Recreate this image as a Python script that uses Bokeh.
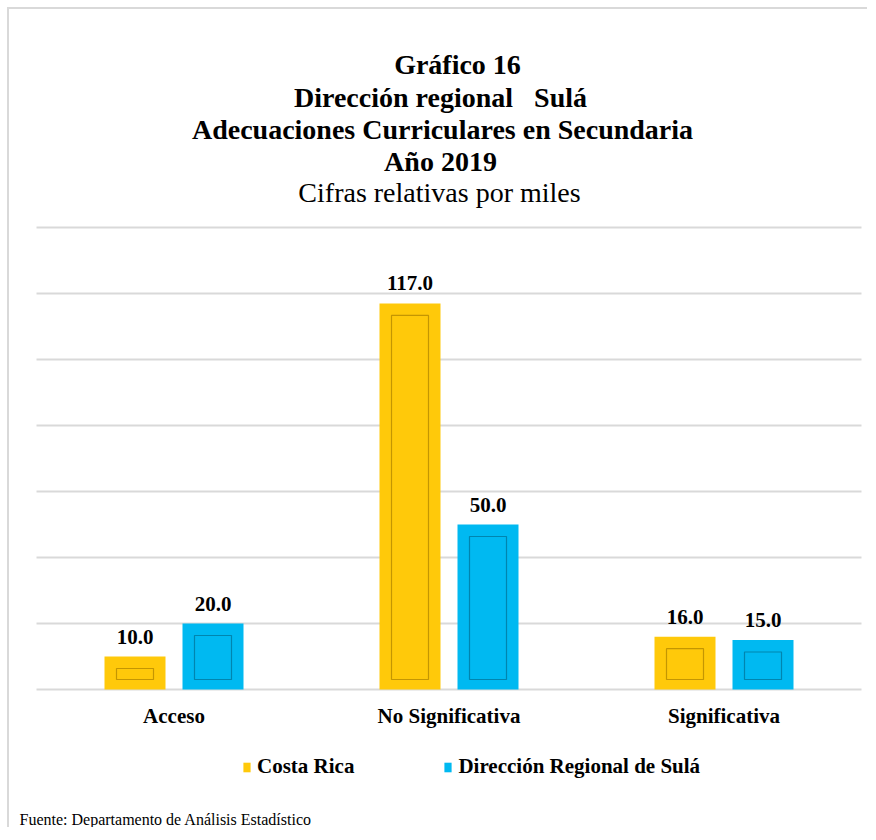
import numpy as np
from bokeh.plotting import figure
from bokeh.models import (Range1d, ColumnDataSource, LabelSet, Label, Legend, LegendItem)
from bokeh.transform import dodge
from bokeh.embed import file_html
from bokeh.resources import INLINE

# ---- data ----
categories = ["Acceso", "No Significativa", "Significativa"]
series = ["Costa Rica", "Dirección Regional de Sulá"]
costa_rica = [10.0, 117.0, 16.0]
sula = [20.0, 50.0, 15.0]
y_ticks = [0, 20, 40, 60, 80, 100, 120, 140]

title_lines = ["Gráfico 16", "Dirección regional\u00a0\u00a0 Sulá",
               "Adecuaciones Curriculares en Secundaria", "Año 2019"]
subtitle = "Cifras relativas por miles"
footer = "Fuente: Departamento de Análisis Estadístico"

# ---- style ----
FONT = "Liberation Serif"
YEL = "#FFC90A"
YEL_EDGE = "#B58A00"
BLUE = "#00B9F1"
BLUE_EDGE = "#00789F"
GRID = "#D9D9D9"

W, H = 860, 820
PX_X = 275.0             # px per category
PX_Y = 3.3               # px per value unit (66 px per 20)
X0_PX = 27.0             # canvas x of plot-area left edge
Y0_PX = 680.0            # canvas y of value 0

BAR_W = 61 / PX_X
INNER_W = 37 / PX_X
OFF = 39 / PX_X
inset_top = 12 / PX_Y
inset_bot = 10 / PX_Y

xpos = np.arange(len(categories)) + 0.5

src = ColumnDataSource(dict(
    x=xpos,
    cat=categories,
    cr=costa_rica,
    sula=sula,
    cr_in_top=[v - inset_top for v in costa_rica],
    sula_in_top=[v - inset_top for v in sula],
    in_bot=[inset_bot] * len(categories),
    cr_lbl=[f"{v:.1f}" for v in costa_rica],
    sula_lbl=[f"{v:.1f}" for v in sula],
    lbl_y=[-26 / PX_Y] * len(categories),
))

x_start = -X0_PX / PX_X
x_end = x_start + W / PX_X
y_top = Y0_PX / PX_Y
y_bot = y_top - H / PX_Y

p = figure(x_range=Range1d(x_start, x_end), y_range=Range1d(y_bot, y_top),
           width=W, height=H, output_backend="svg", toolbar_location=None,
           min_border=0, title=None)
p.styles = {"margin-left": "7px", "margin-top": "7px",
            "border-left": "2px solid #D9D9D9", "border-top": "2px solid #D9D9D9"}
p.outline_line_color = None
p.background_fill_color = "white"
p.border_fill_color = "white"
p.axis.visible = False
p.grid.visible = False

# gridlines across the category span
n = len(categories)
p.segment(x0=[0] * len(y_ticks), x1=[n] * len(y_ticks), y0=y_ticks, y1=y_ticks,
          line_color=GRID, line_width=2)

x_cr = dodge("x", -OFF)
x_su = dodge("x", OFF)

r_cr = p.vbar(x=x_cr, top="cr", width=BAR_W, source=src,
              fill_color=YEL, line_color=None)
p.vbar(x=x_cr, top="cr_in_top", bottom="in_bot", width=INNER_W, source=src,
       fill_color=YEL, line_color=YEL_EDGE, line_width=1.2, line_alpha=0.8)
r_su = p.vbar(x=x_su, top="sula", width=BAR_W, source=src,
              fill_color=BLUE, line_color=None)
p.vbar(x=x_su, top="sula_in_top", bottom="in_bot", width=INNER_W, source=src,
       fill_color=BLUE, line_color=BLUE_EDGE, line_width=1.2, line_alpha=0.8)

for xx, yy, tt in [(x_cr, "cr", "cr_lbl"), (x_su, "sula", "sula_lbl")]:
    p.add_layout(LabelSet(x=xx, y=yy, text=tt, source=src,
                          text_align="center", text_baseline="middle",
                          y_offset=20, text_font=FONT, text_font_style="bold",
                          text_font_size="21px", text_color="black"))

# category labels
p.add_layout(LabelSet(x="x", y="lbl_y", text="cat", source=src,
                      text_align="center", text_baseline="middle",
                      text_font=FONT, text_font_style="bold",
                      text_font_size="21px", text_color="black"))

# titles
title_cx = [458, 441, 443, 441]
title_px = [65, 98, 130, 162]
for t, cx, yp in zip(title_lines, title_cx, title_px):
    p.add_layout(Label(x=(cx - 10 - X0_PX) / PX_X, y=(690 - yp) / PX_Y, text=t,
                       text_align="center", text_baseline="middle", text_font=FONT,
                       text_font_style="bold", text_font_size="28px",
                       text_color="black"))
p.add_layout(Label(x=(440 - 10 - X0_PX) / PX_X, y=(690 - 193) / PX_Y, text=subtitle,
                   text_align="center", text_baseline="middle", text_font=FONT,
                   text_font_size="28px", text_color="black"))
p.add_layout(Label(x=(20 - 10 - X0_PX) / PX_X, y=(690 - 820) / PX_Y, text=footer,
                   text_align="left", text_baseline="middle", text_font=FONT,
                   text_font_size="16px", text_color="black"))

legend = Legend(items=[LegendItem(label=series[0], renderers=[r_cr]),
                       LegendItem(label=series[1], renderers=[r_su])],
                orientation="horizontal", location=(233, 50),
                padding=0, margin=0, spacing=89, label_standoff=6,
                glyph_width=9, glyph_height=12,
                border_line_color=None, background_fill_alpha=0,
                label_text_font=FONT, label_text_font_style="bold",
                label_text_font_size="21px", label_text_color="black")
p.add_layout(legend)

open("out.html", "w").write(file_html(p, INLINE))
